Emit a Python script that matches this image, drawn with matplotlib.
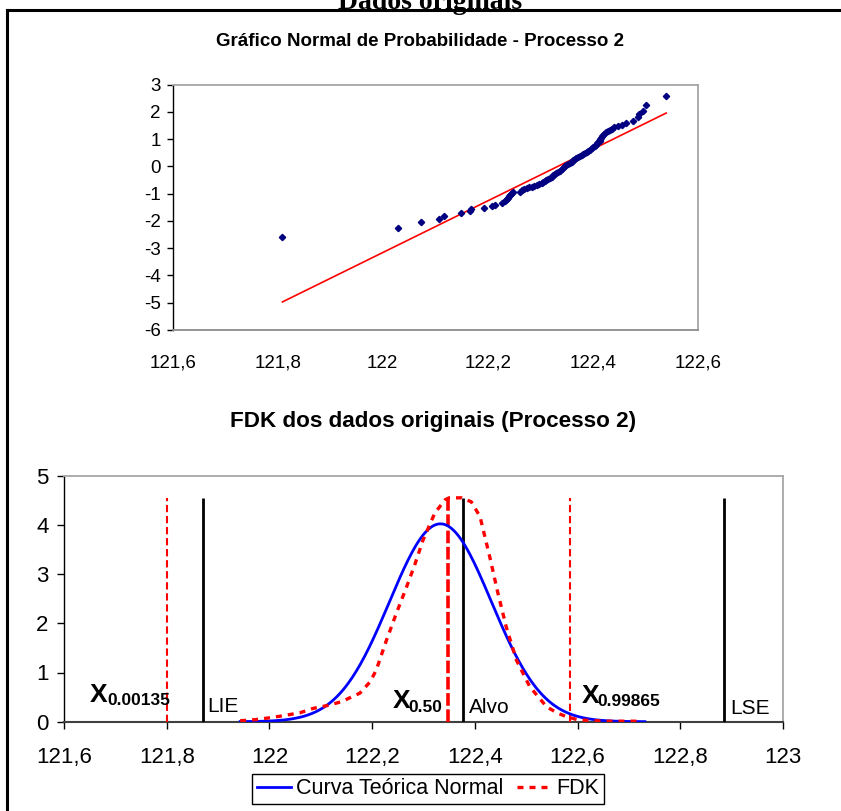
import matplotlib
matplotlib.use("Agg")
import matplotlib.pyplot as plt
from matplotlib.lines import Line2D
import numpy as np

plt.rcParams['font.family'] = ['Liberation Sans', 'DejaVu Sans']
plt.rcParams['axes.unicode_minus'] = False

# ---------------- data: normal probability plot ----------------
qq_x = [121.809, 122.029, 122.072, 122.107, 122.116, 122.150, 122.166, 122.168,
        122.193, 122.208, 122.214, 122.227, 122.233,
        122.235, 122.237, 122.239, 122.241, 122.243, 122.245, 122.247, 122.248,
        122.262, 122.266, 122.270, 122.274, 122.279, 122.284, 122.288, 122.293,
        122.298, 122.303, 122.306, 122.309, 122.312, 122.315, 122.318, 122.322,
        122.325, 122.328, 122.331, 122.334, 122.338, 122.341, 122.344, 122.347,
        122.350, 122.353, 122.356, 122.360, 122.363, 122.366, 122.369, 122.372,
        122.376, 122.379, 122.382, 122.386, 122.389, 122.392, 122.395, 122.398,
        122.401, 122.404, 122.406,
        122.409, 122.411, 122.413, 122.414, 122.416, 122.418, 122.420, 122.422,
        122.426, 122.430, 122.433, 122.436, 122.441, 122.449, 122.455, 122.464,
        122.477, 122.486, 122.489, 122.496, 122.501, 122.540]
qq_y = [-2.60, -2.25, -2.05, -1.93, -1.82, -1.72, -1.65, -1.56,
        -1.51, -1.45, -1.41, -1.33, -1.28,
        -1.24, -1.19, -1.14, -1.10, -1.06, -1.02, -0.98, -0.95,
        -0.92, -0.88, -0.84, -0.80, -0.77, -0.74, -0.71, -0.68,
        -0.64, -0.60, -0.56, -0.53, -0.50, -0.46, -0.42, -0.37,
        -0.33, -0.29, -0.25, -0.20, -0.15, -0.10, -0.05, 0.00,
        0.05, 0.09, 0.13, 0.18, 0.22, 0.26, 0.30, 0.34,
        0.38, 0.42, 0.46, 0.50, 0.54, 0.58, 0.62, 0.67,
        0.71, 0.75, 0.79,
        0.85, 0.90, 0.95, 1.00, 1.05, 1.10, 1.15, 1.20,
        1.25, 1.30, 1.34, 1.38, 1.44, 1.48, 1.52, 1.58,
        1.67, 1.80, 1.91, 2.05, 2.24, 2.59]
fit_x = [121.809, 122.540]
fit_y = [-4.97, 1.96]

top_xticks = [121.6, 121.8, 122.0, 122.2, 122.4, 122.6]
top_xlabels = ["121,6", "121,8", "122", "122,2", "122,4", "122,6"]
top_yticks = [-6, -5, -4, -3, -2, -1, 0, 1, 2, 3]

# ---------------- data: FDK chart ----------------
fdk_x = [121.943, 121.960, 121.980, 122.000, 122.020, 122.059, 122.085, 122.118,
         122.141, 122.176, 122.196, 122.208, 122.227, 122.247, 122.266, 122.283,
         122.299, 122.322, 122.342, 122.350, 122.374, 122.393, 122.410, 122.429,
         122.445, 122.461, 122.481, 122.507, 122.540, 122.562, 122.579, 122.600,
         122.630, 122.660, 122.690, 122.725]
fdk_y = [0.02, 0.03, 0.05, 0.08, 0.11, 0.18, 0.27, 0.34,
         0.41, 0.58, 0.81, 1.05, 1.63, 2.20, 2.71, 3.19,
         3.69, 4.24, 4.51, 4.55, 4.55, 4.47, 4.17, 3.35,
         2.61, 1.93, 1.25, 0.71, 0.30, 0.17, 0.10, 0.04,
         0.02, 0.01, 0.01, 0.01]
normal_mean = 122.333
normal_sd = 0.0992
normal_range = (121.943, 122.731)

x_00135 = 121.80
x_050 = 122.347
x_99865 = 122.585
lie = 121.87
alvo = 122.377
lse = 122.886
vline_top = 4.55

bot_xticks = [121.6, 121.8, 122.0, 122.2, 122.4, 122.6, 122.8, 123.0]
bot_xlabels = ["121,6", "121,8", "122", "122,2", "122,4", "122,6", "122,8", "123"]
bot_yticks = [0, 1, 2, 3, 4, 5]

# ---------------- figure ----------------
W, H = 841, 811
fig = plt.figure(figsize=(W / 100, H / 100), dpi=100)

def fx(px):
    return px / W

def fy(py):
    return 1 - py / H

# outer frame
fig.add_artist(Line2D([fx(7), fx(7)], [fy(10), fy(811)], color='black', lw=2.2,
                      transform=fig.transFigure))
fig.add_artist(Line2D([fx(7), fx(841)], [fy(10), fy(10)], color='black', lw=2.2,
                      transform=fig.transFigure))
fig.text(fx(430), fy(9), "Dados originais", family=['Liberation Serif', 'DejaVu Serif'],
         weight='bold', fontsize=20, ha='center', va='baseline')

# ---- top chart ----
ax1 = fig.add_axes([fx(172.7), fy(330), fx(697.7) - fx(172.7), (330 - 84.7) / H])
ax1.plot(qq_x, qq_y, linestyle='none', marker='D', ms=3.2, color='#000080',
         mec='#000080', zorder=3)
ax1.plot(fit_x, fit_y, color='red', lw=1.2, zorder=2)
ax1.set_xlim(121.6, 122.6)
ax1.set_ylim(-6, 3)
ax1.set_xticks(top_xticks)
ax1.set_xticklabels(top_xlabels)
ax1.set_yticks(top_yticks)
ax1.tick_params(axis='x', length=0, pad=18, labelsize=13.5)
ax1.tick_params(axis='y', direction='out', length=4.5, width=1, pad=4, labelsize=13.5)
for s in ['top', 'right']:
    ax1.spines[s].set_color('#a6a6a6')
    ax1.spines[s].set_linewidth(1.3)
ax1.spines['bottom'].set_color('#8c8c8c')
ax1.spines['bottom'].set_linewidth(1.3)
ax1.spines['left'].set_color('black')
ax1.spines['left'].set_linewidth(1.0)
fig.text(fx(420), fy(42), "Gráfico Normal de Probabilidade - Processo 2",
         weight='bold', fontsize=13.5, ha='center', va='center')

# ---- bottom chart ----
ax2 = fig.add_axes([fx(64), fy(721.7), fx(783) - fx(64), (721.7 - 475.7) / H])
nx = np.linspace(normal_range[0], normal_range[1], 300)
ny = np.exp(-0.5 * ((nx - normal_mean) / normal_sd) ** 2) / (normal_sd * np.sqrt(2 * np.pi))
ax2.plot(nx, ny, color='#0000ff', lw=2.0, zorder=4, label='Curva Teórica Normal')
ax2.plot(fdk_x, fdk_y, color='#ff0000', lw=2.4, linestyle=(0, (1.8, 1.8)), zorder=5,
         label='FDK')
ax2.vlines([x_00135, x_99865], 0, vline_top, colors='#ff0000', lw=1.5,
           linestyles=[(0, (3.5, 1.8))], zorder=3)
ax2.vlines([x_050], 0, vline_top, colors='#ff0000', lw=2.6,
           linestyles=[(0, (3.5, 1.0))], zorder=3)
ax2.vlines([lie, alvo, lse], 0, vline_top, colors='black', lw=2.0, zorder=3)
ax2.set_xlim(121.6, 123.0)
ax2.set_ylim(0, 5)
ax2.set_xticks(bot_xticks)
ax2.set_xticklabels(bot_xlabels)
ax2.set_yticks(bot_yticks)
ax2.tick_params(axis='both', direction='out', length=5, width=1, labelsize=16)
ax2.tick_params(axis='x', pad=13)
ax2.tick_params(axis='y', pad=6)
for s in ['top', 'right']:
    ax2.spines[s].set_color('#a6a6a6')
    ax2.spines[s].set_linewidth(1.3)
ax2.spines['bottom'].set_color('#404040')
ax2.spines['bottom'].set_linewidth(1.5)
ax2.spines['left'].set_color('black')
ax2.spines['left'].set_linewidth(1.0)

# annotations
def xlabel(xl, yb, sub, xs):
    ax2.text(xl, yb, "X", weight='bold', fontsize=19, ha='left', va='baseline', zorder=6)
    ax2.text(xs, yb - 0.07, sub, weight='bold', fontsize=12.5, ha='left', va='baseline',
             zorder=6)

xlabel(121.651, 0.40, "0.00135", 121.684)
xlabel(122.241, 0.27, "0.50", 122.270)
xlabel(122.609, 0.39, "0.99865", 122.639)
ax2.text(121.878, 0.20, "LIE", fontsize=15, ha='left', va='baseline', zorder=6)
ax2.text(122.389, 0.18, "Alvo", fontsize=15, ha='left', va='baseline', zorder=6)
ax2.text(122.897, 0.16, "LSE", fontsize=15, ha='left', va='baseline', zorder=6)

fig.text(fx(433), fy(421), "FDK dos dados originais (Processo 2)",
         weight='bold', fontsize=16.2, ha='center', va='center')

leg = fig.legend(handles=ax2.get_lines()[:2], loc='center',
                 bbox_to_anchor=(fx(428), fy(789)), ncol=2, fontsize=15.5,
                 frameon=True, fancybox=False, edgecolor='black', framealpha=1,
                 handlelength=1.6, handletextpad=0.25, columnspacing=0.6,
                 borderpad=0.22, borderaxespad=0)
leg.get_frame().set_linewidth(1.0)

fig.savefig("out.png", dpi=100)
